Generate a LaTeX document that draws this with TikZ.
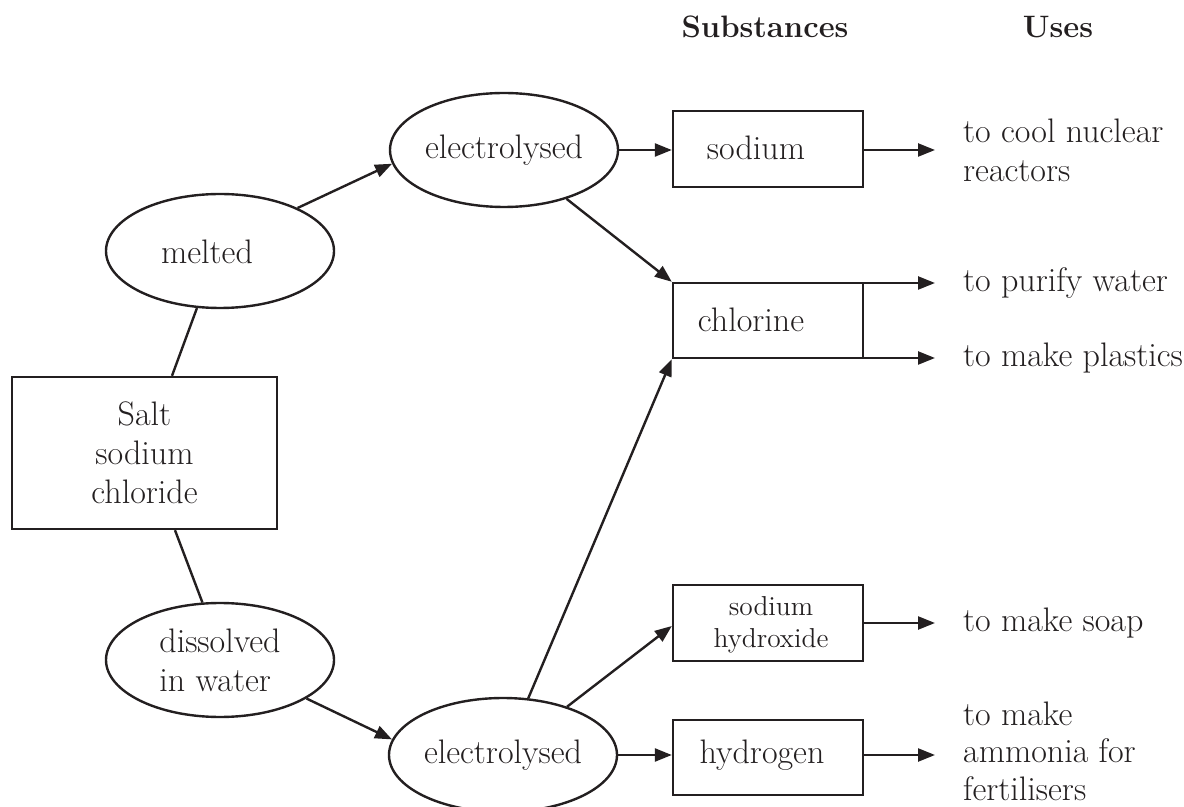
\documentclass[tikz,border=0pt]{standalone}
\usetikzlibrary{shapes.geometric,arrows.meta,calc}
\definecolor{ink}{RGB}{35,31,32}
\newcommand\mybody{\fontsize{17}{19.5}\selectfont}
\newcommand\mytight{\fontsize{17}{18.7}\selectfont}
\newcommand\mysmall{\fontsize{13.7}{16}\selectfont}
\newcommand\myhead{\fontsize{15.5}{18}\selectfont\bfseries}
\begin{document}
\begin{tikzpicture}[x=0.5pt,y=-0.5pt,line width=1.2pt,color=ink,
  ell/.style={ellipse,draw,minimum width=114pt,minimum height=57pt,inner sep=0pt,font=\mybody,align=center},
  box/.style={rectangle,draw,minimum width=95pt,minimum height=38pt,inner sep=0pt},
  lbl/.style={inner sep=0pt,font=\mybody,align=center},
  use/.style={inner sep=0pt,font=\mybody,align=left,anchor=west},
  arr/.style={-{Triangle[length=8.5pt,width=6.5pt]}},
  head/.style={inner sep=0pt,font=\myhead}]
\useasboundingbox (0,0) rectangle (1184,807);
\clip (0,0) rectangle (1184,807);

% headers
\node[head] (hsub) at (765,27) {Substances};
\node[head] (huse) at (1058,27) {Uses};

% left part
\node[box,minimum width=132.5pt,minimum height=76pt,font=\mybody,align=center] (salt) at (144.5,453) {Salt\\sodium\\chloride};
\node[ell] (melted) at (220,251) {};
\node[lbl] (tmelted) at (207,252) {melted};
\node[ell,align=left] (dissolved) at (220,660) {dissolved\\in water};

% electrolysis
\node[ell] (el1) at (504,150) {electrolysed};
\node[ell] (el2) at (503,755) {electrolysed};

% substances
\node[box] (sodium) at (768,149) {};
\node[lbl] (tsodium) at (756,148) {sodium};
\node[box,minimum height=37.5pt] (chlorine) at (768,320.5) {};
\node[lbl] (tchlorine) at (751,320) {chlorine};
\node[box] (naoh) at (768,623) {};
\node[inner sep=0pt,font=\mysmall,align=center] (tnaoh) at (771,625) {sodium\\hydroxide};
\node[box,minimum height=37.5pt] (hydrogen) at (768,757.5) {};
\node[lbl] (thydrogen) at (762,755) {hydrogen};

% uses
\node[use] (u1) at (962,150) {to cool nuclear\\reactors};
\node[use] (u2) at (962,283) {to purify water};
\node[use] (u3) at (962,358) {to make plastics};
\node[use] (u4) at (962,623) {to make soap};
\node[use,font=\mytight] (u5) at (962,751) {to make\\ammonia for\\fertilisers};

\coordinate (e1) at (935,150);
\coordinate (e2) at (935,283);
\coordinate (e3) at (935,358);
\coordinate (e4) at (935,623);
\coordinate (e5) at (935,755);

% connectors
\draw (melted.248) -- ($(salt.north)+(27.5,0)$);
\draw ($(salt.south)+(30.5,0)$) -- (dissolved.107.5);
\draw[arr] (melted.29.8) -- (el1.187.6);
\draw[arr] (dissolved.-24.6) -- (el2.172.2);
\draw[arr] (el1.east) -- (el1.east -| sodium.west);
\draw[arr] (el1.-38.2) -- (chlorine.north west);
\draw[arr] (el2.66.3) -- (chlorine.south west);
\draw[arr] (el2.37.3) -- ($(naoh.west)+(0,3)$);
\draw[arr] (el2.east) -- (el2.east -| hydrogen.west);

\draw[arr] (sodium.east |- e1) -- (e1);
\draw[arr] (chlorine.east |- e2) -- (e2);
\draw[arr] (chlorine.east |- e3) -- (e3);
\draw[arr] (naoh.east |- e4) -- (e4);
\draw[arr] (hydrogen.east |- e5) -- (e5);
\end{tikzpicture}
\end{document}
